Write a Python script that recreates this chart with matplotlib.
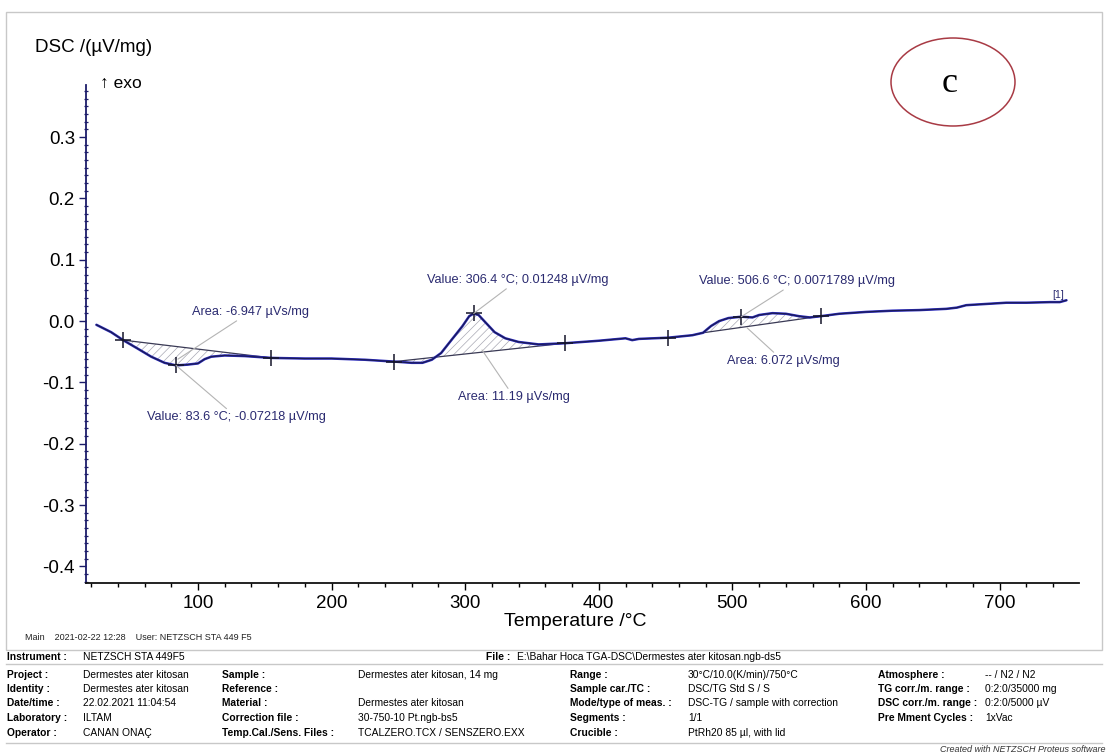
import numpy as np
import matplotlib
matplotlib.use("Agg")
import matplotlib.pyplot as plt
from matplotlib.patches import Ellipse, Rectangle
from matplotlib.lines import Line2D
from matplotlib.ticker import MultipleLocator

plt.rcParams['font.family'] = ['Liberation Sans', 'DejaVu Sans']
plt.rcParams['hatch.linewidth'] = 0.5

# DSC curve
temp = [24, 35, 44, 55, 65, 75, 83.6, 92, 100, 105, 110, 120, 135, 155, 180, 200,
        225, 247, 260, 268, 275, 282, 290, 298, 303, 306.4, 310, 316, 322, 330,
        340, 355, 375, 400, 420, 425, 430, 452, 470, 478, 484, 490, 497, 506.6,
        515, 520, 530, 540, 550, 558, 566, 580, 600, 620, 640, 660, 668, 675,
        690, 705, 720, 738, 745, 750]
dsc = [-0.006, -0.018, -0.031, -0.045, -0.058, -0.068, -0.0722, -0.071, -0.069,
       -0.062, -0.058, -0.056, -0.057, -0.060, -0.061, -0.061, -0.063, -0.066,
       -0.068, -0.068, -0.063, -0.052, -0.030, -0.008, 0.008, 0.0125, 0.010,
       -0.004, -0.018, -0.028, -0.034, -0.038, -0.036, -0.032, -0.028, -0.031,
       -0.029, -0.027, -0.023, -0.019, -0.008, 0.000, 0.005, 0.0072, 0.006,
       0.010, 0.013, 0.012, 0.008, 0.006, 0.008, 0.012, 0.015, 0.017, 0.018,
       0.020, 0.022, 0.026, 0.028, 0.030, 0.030, 0.031, 0.031, 0.034]

# integration limits (start, end) for each evaluated peak
peak_limits = [(44, 155), (247, 375), (478, 566)]
# marked points
marker_temps = [44, 83.6, 155, 247, 306.4, 375, 452, 506.6, 566]

# annotations: text, point, text position
notes = [
    ("Area: -6.947 \u00b5Vs/mg", (85, -0.062), (139, 0.0147)),
    ("Value: 83.6 \u00b0C; -0.07218 \u00b5V/mg", (83.6, -0.0722), (129, -0.157)),
    ("Value: 306.4 \u00b0C; 0.01248 \u00b5V/mg", (306.4, 0.0125), (339.5, 0.067)),
    ("Area: 11.19 \u00b5Vs/mg", (312.6, -0.047), (336.5, -0.124)),
    ("Value: 506.6 \u00b0C; 0.0071789 \u00b5V/mg", (506.6, 0.0072), (548.4, 0.065)),
    ("Area: 6.072 \u00b5Vs/mg", (511, -0.011), (538, -0.065)),
]

W, H = 1107, 756
fig = plt.figure(figsize=(W / 100, H / 100), dpi=100)


def fx(px):
    return px / W


def fy(py):
    return 1 - py / H


ax = fig.add_axes([fx(86), fy(583), fx(1079) - fx(86), fy(85) - fy(583)])
ax.set_xlim(16.2, 759.4)
ax.set_ylim(-0.427, 0.385)

t = np.array(temp)
d = np.array(dsc)

# hatched areas + baselines
for t0, t1 in peak_limits:
    y0 = np.interp(t0, t, d)
    y1 = np.interp(t1, t, d)
    m = (t >= t0) & (t <= t1)
    base = np.interp(t[m], [t0, t1], [y0, y1])
    ax.fill_between(t[m], d[m], base, facecolor='none', edgecolor='#a8a8b4',
                    hatch='////', linewidth=0)
    ax.plot([t0, t1], [y0, y1], color='#3a3a55', lw=0.9)

ax.plot(t, d, color='#2c2cc0', lw=1.8, solid_capstyle='round')
ax.plot(t, d, color='#1b1b55', lw=0.9)

mv = np.interp(marker_temps, t, d)
ax.plot(marker_temps, mv, ls='none', marker='+', ms=12, mew=1.1, color='#15152a')

for txt, xy, xyt in notes:
    ax.annotate(txt, xy=xy, xytext=xyt, ha='center', va='center', fontsize=9.2,
                color='#2a2a70',
                arrowprops=dict(arrowstyle='-', color='#b4b4b4', lw=0.8,
                                shrinkA=0, shrinkB=0))

ax.text(748, 0.034, "[1]", fontsize=7.5, color='#2a2a70', ha='right', va='bottom')

for s in ['top', 'right']:
    ax.spines[s].set_visible(False)
ax.spines['left'].set_color('#1c1c6a')
ax.spines['left'].set_linewidth(1.3)
ax.spines['bottom'].set_color('#111111')
ax.spines['bottom'].set_linewidth(1.3)

ax.set_xticks([100, 200, 300, 400, 500, 600, 700])
ax.xaxis.set_minor_locator(MultipleLocator(20))
ax.set_yticks([0.3, 0.2, 0.1, 0.0, -0.1, -0.2, -0.3, -0.4])
ax.set_yticklabels(['0.3', '0.2', '0.1', '0.0', '-0.1', '-0.2', '-0.3', '-0.4'])
ax.yaxis.set_minor_locator(MultipleLocator(0.0125))
ax.tick_params(axis='x', which='major', direction='out', length=5, width=1,
               labelsize=13.5, pad=4)
ax.tick_params(axis='x', which='minor', direction='out', length=3, width=1)
ax.tick_params(axis='y', which='major', direction='out', length=5, width=1,
               color='#1c1c6a', labelsize=13.5, pad=3)
ax.tick_params(axis='y', which='minor', direction='inout', length=3.5, width=0.9,
               color='#1c1c6a')
ax.set_facecolor('none')

fig.text(fx(35), fy(48), "DSC /(\u00b5V/mg)", fontsize=13.5, va='center', ha='left')
fig.text(fx(100), fy(83), "\u2191 exo", fontsize=12.5, va='center', ha='left')
fig.text(fx(575), fy(622), "Temperature /\u00b0C", fontsize=14, va='center', ha='center')

# marker circle with panel letter
fig.patches.append(Ellipse((fx(953), fy(82)), fx(124), 88 / H, fill=False,
                           edgecolor='#a83a44', lw=1.1, transform=fig.transFigure))
fig.text(fx(950), fy(84), "c", fontsize=26, family=['Liberation Serif', 'DejaVu Serif'],
         ha='center', va='center')

# panel frame and info table
grey = '#c8c8c8'
fig.patches.append(Rectangle((fx(6), fy(650)), fx(1096), fy(12) - fy(650), fill=False,
                             edgecolor=grey, lw=1, transform=fig.transFigure))
for py in [664, 743]:
    fig.add_artist(Line2D([fx(6), fx(1102)], [fy(py), fy(py)], color=grey, lw=1))

fig.text(fx(25), fy(637), "Main    2021-02-22 12:28    User: NETZSCH STA 449 F5",
         fontsize=6.5, va='center', color='#222222')

fs = 7.4
fig.text(fx(7), fy(657), "Instrument :", fontsize=fs, weight='bold', va='center')
fig.text(fx(83), fy(657), "NETZSCH STA 449F5", fontsize=fs, va='center')
fig.text(fx(486), fy(657), "File :", fontsize=fs, weight='bold', va='center')
fig.text(fx(517), fy(657), "E:\\Bahar Hoca TGA-DSC\\Dermestes ater kitosan.ngb-ds5",
         fontsize=fs, va='center')

row_y = [675, 689, 703.5, 718, 732.5]
columns = [
    (7, 83, ["Project :", "Identity :", "Date/time :", "Laboratory :", "Operator :"],
     ["Dermestes ater kitosan", "Dermestes ater kitosan", "22.02.2021 11:04:54",
      "ILTAM", "CANAN ONA\u00c7"]),
    (222, 358, ["Sample :", "Reference :", "Material :", "Correction file :",
                "Temp.Cal./Sens. Files :"],
     ["Dermestes ater kitosan, 14 mg", "", "Dermestes ater kitosan",
      "30-750-10 Pt.ngb-bs5", "TCALZERO.TCX / SENSZERO.EXX"]),
    (570, 688, ["Range :", "Sample car./TC :", "Mode/type of meas. :", "Segments :",
                "Crucible :"],
     ["30\u00b0C/10.0(K/min)/750\u00b0C", "DSC/TG Std S / S",
      "DSC-TG / sample with correction", "1/1", "PtRh20 85 \u00b5l, with lid"]),
    (878, 985, ["Atmosphere :", "TG corr./m. range :", "DSC corr./m. range :",
                "Pre Mment Cycles :", ""],
     ["-- / N2 / N2", "0:2:0/35000 mg", "0:2:0/5000 \u00b5V", "1xVac", ""]),
]
for lx, vx, labels, values in columns:
    for py, lab, val in zip(row_y, labels, values):
        fig.text(fx(lx), fy(py), lab, fontsize=fs, weight='bold', va='center')
        fig.text(fx(vx), fy(py), val, fontsize=fs, va='center')

fig.text(fx(1105), fy(750), "Created with NETZSCH Proteus software", fontsize=6.5,
         style='italic', ha='right', va='center', color='#333333')

fig.savefig("out.png", dpi=100)
